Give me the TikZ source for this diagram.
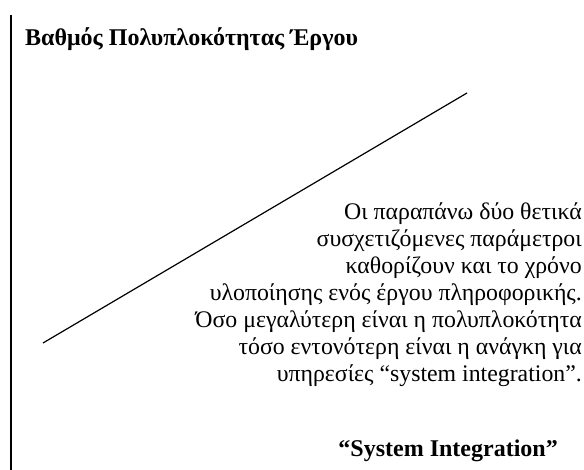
\documentclass[tikz,border=0pt]{standalone}
\usepackage{fontspec}
\setmainfont{Liberation Serif}
\begin{document}
\begin{tikzpicture}[x=1pt,y=1pt,
  ttl/.style={font=\fontsize{24}{28}\selectfont\bfseries, inner sep=0pt},
  body/.style={font=\fontsize{23.8}{27}\selectfont, inner sep=0pt, anchor=base east},
  axisline/.style={line width=1.8pt},
  trend/.style={line width=1.2pt}]
\useasboundingbox (0,0) rectangle (584,-470);
\coordinate (vtop) at (11,-15);
\coordinate (vbot) at (11,-470);
\draw[axisline] (vtop) -- (vbot);
\coordinate (lstart) at (43,-343);
\coordinate (lend) at (467,-93);
\draw[trend] (lstart) -- (lend);
\node[ttl, anchor=base west] (title) at (25,-46) {Βαθμός Πολυπλοκότητας Έργου};
\node[body] (l1) at (582,-220) {Οι παραπάνω δύο θετικά};
\node[body] (l2) at (582,-247) {συσχετιζόμενες παράμετροι};
\node[body] (l3) at (582,-274) {καθορίζουν και το χρόνο};
\node[body] (l4) at (582,-301) {υλοποίησης ενός έργου πληροφορικής.};
\node[body] (l5) at (582,-328) {Όσο μεγαλύτερη είναι η πολυπλοκότητα};
\node[body] (l6) at (582,-355) {τόσο εντονότερη είναι η ανάγκη για};
\node[body] (l7) at (582,-382) {υπηρεσίες “system integration”.};
\node[ttl, anchor=base east] (si) at (558,-456) {“System Integration”};
\end{tikzpicture}
\end{document}
